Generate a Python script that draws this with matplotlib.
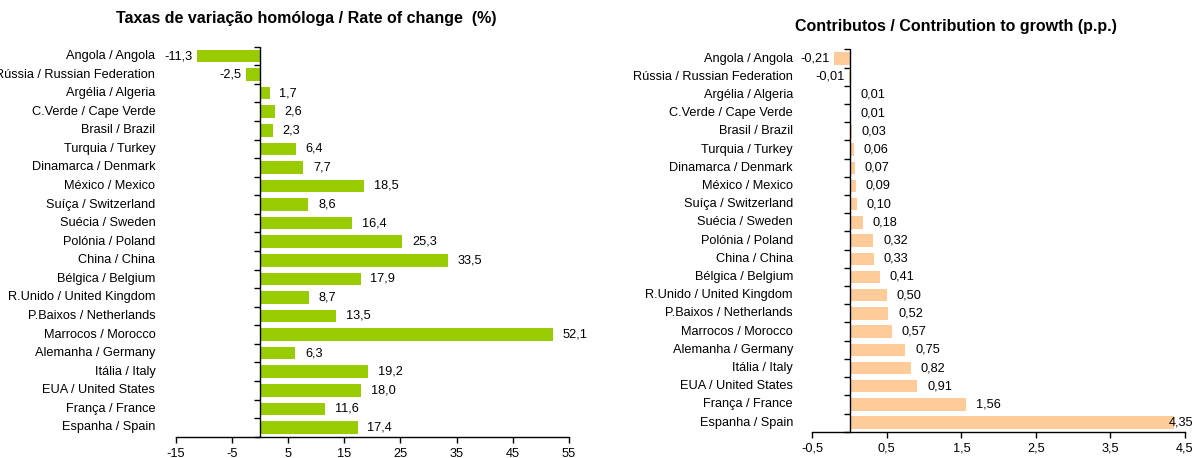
import numpy as np
import matplotlib.pyplot as plt
from matplotlib.transforms import blended_transform_factory

plt.rcParams['font.family'] = ['Liberation Sans', 'DejaVu Sans']

# data (top to bottom)
countries = ["Angola / Angola", "Rússia / Russian Federation", "Argélia / Algeria",
             "C.Verde / Cape Verde", "Brasil / Brazil", "Turquia / Turkey",
             "Dinamarca / Denmark", "México / Mexico", "Suíça / Switzerland",
             "Suécia / Sweden", "Polónia / Poland", "China / China",
             "Bélgica / Belgium", "R.Unido / United Kingdom", "P.Baixos / Netherlands",
             "Marrocos / Morocco", "Alemanha / Germany", "Itália / Italy",
             "EUA / United States", "França / France", "Espanha / Spain"]
rate = [-11.3, -2.5, 1.7, 2.6, 2.3, 6.4, 7.7, 18.5, 8.6, 16.4, 25.3, 33.5,
        17.9, 8.7, 13.5, 52.1, 6.3, 19.2, 18.0, 11.6, 17.4]
contrib = [-0.21, -0.01, 0.01, 0.01, 0.03, 0.06, 0.07, 0.09, 0.10, 0.18, 0.32,
           0.33, 0.41, 0.50, 0.52, 0.57, 0.75, 0.82, 0.91, 1.56, 4.35]
left_ticks = [-15, -5, 5, 15, 25, 35, 45, 55]
right_ticks = [-0.5, 0.5, 1.5, 2.5, 3.5, 4.5]

FS = 9.2

fig = plt.figure(figsize=(11.97, 4.58), dpi=100)
ax1 = fig.add_axes([0.1468, 0.0465, 0.3286, 0.8515])
ax2 = fig.add_axes([0.6786, 0.0574, 0.3114, 0.8346])


def draw_panel(ax, values, color, ticks, decimals, title, title_x, title_y):
    y = np.arange(len(values))
    ax.barh(y, values, height=0.68, color=color, edgecolor='none', zorder=2)
    ax.set_ylim(len(values) - 0.5, -0.5)
    ax.set_xlim(ticks[0], ticks[-1])
    ax.set_xticks(ticks)
    ax.set_xticklabels([f"{t:g}".replace('.', ',') for t in ticks], fontsize=FS)
    ax.tick_params(axis='x', direction='out', length=4, width=1, pad=4)
    ax.set_yticks([])
    for s in ['top', 'right', 'left']:
        ax.spines[s].set_visible(False)
    ax.spines['bottom'].set_linewidth(1)

    # category axis at zero, ticks between categories
    ax.axvline(0, color='black', lw=1, zorder=3)
    edges = np.arange(len(values) + 1) - 0.5
    ax.plot(np.zeros(len(edges)), edges, linestyle='none', marker=0,
            markersize=4, color='black', markeredgewidth=1, clip_on=False, zorder=3)

    trans = blended_transform_factory(ax.transAxes, ax.transData)
    for i, name in enumerate(countries):
        ax.text(-0.052, i, name, transform=trans, ha='right', va='center', fontsize=FS)

    span = ticks[-1] - ticks[0]
    for i, v in enumerate(values):
        txt = f"{v:.{decimals}f}".replace('.', ',')
        if v < 0:
            ax.annotate(txt, (v, i), xytext=(-3, 0), textcoords='offset points',
                        ha='right', va='center', fontsize=FS)
        elif v > ticks[-1] - 0.04 * span:
            ax.annotate(txt, (v, i), xytext=(-4, 0), textcoords='offset points',
                        ha='left', va='center', fontsize=FS)
        else:
            ax.annotate(txt, (v, i), xytext=(7, 0), textcoords='offset points',
                        ha='left', va='center', fontsize=FS)

    fig.text(title_x, title_y, title, ha='center', va='center',
             fontsize=11.5, fontweight='bold')


draw_panel(ax1, rate, '#99CC00', left_ticks, 1,
           "Taxas de variação homóloga / Rate of change  (%)", 306 / 1197, 1 - 18 / 458)
draw_panel(ax2, contrib, '#FFCC99', right_ticks, 2,
           "Contributos / Contribution to growth (p.p.)", 956 / 1197, 1 - 27 / 458)

fig.savefig("out.png", dpi=100)
